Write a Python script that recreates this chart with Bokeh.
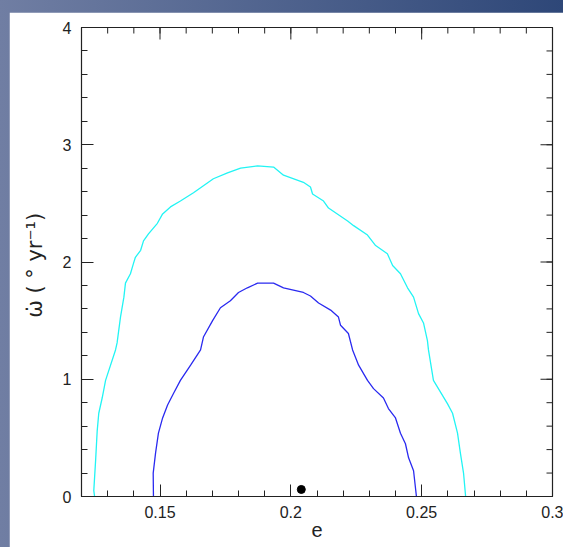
import math

from bokeh.plotting import figure
from bokeh.models import FixedTicker, Range1d
from bokeh.layouts import column
from bokeh.embed import file_html
from bokeh.resources import INLINE

# Outer contour (cyan): eccentricity vs. apsidal advance rate
outer_e = [0.1250, 0.1247, 0.1254, 0.1260, 0.1266, 0.1279, 0.1292, 0.1330, 0.1336,
           0.1349, 0.1362, 0.1368, 0.1387, 0.1399, 0.1406, 0.1426, 0.1437, 0.1456,
           0.1490, 0.1510, 0.1540, 0.1578, 0.1628, 0.1666, 0.1704, 0.1758, 0.1808,
           0.1873, 0.1934, 0.1972, 0.2048, 0.2075, 0.2083, 0.2125, 0.2144, 0.2217,
           0.2240, 0.2293, 0.2324, 0.2369, 0.2389, 0.2419, 0.2446, 0.2469, 0.2488,
           0.2507, 0.2522, 0.2526, 0.2545, 0.2599, 0.2618, 0.2637, 0.2648, 0.2660,
           0.2668]
outer_w = [0.00, 0.05, 0.31, 0.56, 0.71, 0.84, 0.99, 1.25, 1.31,
           1.53, 1.70, 1.82, 1.90, 1.99, 2.04, 2.10, 2.18, 2.24,
           2.33, 2.41, 2.47, 2.52, 2.59, 2.65, 2.71, 2.76, 2.80,
           2.82, 2.81, 2.74, 2.68, 2.64, 2.58, 2.52, 2.46, 2.35,
           2.31, 2.23, 2.14, 2.07, 1.97, 1.90, 1.78, 1.70, 1.56,
           1.48, 1.33, 1.25, 0.99, 0.79, 0.71, 0.54, 0.37, 0.20,
           0.00]

# Inner contour (blue)
inner_e = [0.1475, 0.1474, 0.1483, 0.1494, 0.1510, 0.1529, 0.1552, 0.1578, 0.1617,
           0.1655, 0.1666, 0.1701, 0.1731, 0.1769, 0.1800, 0.1834, 0.1873, 0.1934,
           0.1972, 0.2048, 0.2075, 0.2106, 0.2152, 0.2182, 0.2190, 0.2220, 0.2236,
           0.2259, 0.2293, 0.2316, 0.2354, 0.2373, 0.2400, 0.2419, 0.2438, 0.2450,
           0.2469, 0.2480]
inner_w = [0.00, 0.20, 0.37, 0.54, 0.67, 0.78, 0.88, 0.99, 1.12,
           1.25, 1.36, 1.50, 1.61, 1.67, 1.74, 1.78, 1.82, 1.82,
           1.78, 1.74, 1.71, 1.65, 1.59, 1.53, 1.46, 1.39, 1.25,
           1.12, 0.99, 0.92, 0.84, 0.75, 0.67, 0.54, 0.45, 0.33,
           0.22, 0.00]

# Best-fit solution
best_e = [0.204]
best_w = [0.06]

x_major = [0.15, 0.2, 0.25, 0.3]
x_labels = ["0.15", "0.2", "0.25", "0.3"]
x_minor = [0.12, 0.13, 0.14, 0.15, 0.16, 0.17, 0.18, 0.19, 0.20, 0.21,
           0.22, 0.23, 0.24, 0.25, 0.26, 0.27, 0.28, 0.29, 0.30]
y_major = [0, 1, 2, 3, 4]
y_labels = ["0", "1", "2", "3", "4"]
y_minor = [0.0, 0.2, 0.4, 0.6, 0.8, 1.0, 1.2, 1.4, 1.6, 1.8, 2.0, 2.2, 2.4,
           2.6, 2.8, 3.0, 3.2, 3.4, 3.6, 3.8, 4.0]

X_MIN, X_MAX = 0.12, 0.3
Y_MIN, Y_MAX = 0, 4

FONT = "Liberation Sans"
INK = "#222222"
MAJOR_LEN = 12
MINOR_LEN = 6

p = figure(frame_width=471, frame_height=469,
           x_range=Range1d(X_MIN, X_MAX), y_range=Range1d(Y_MIN, Y_MAX),
           output_backend="svg", toolbar_location=None,
           min_border_left=72, min_border_right=11,
           min_border_top=15, min_border_bottom=51,
           background_fill_color="white", border_fill_color="white")
p.margin = (12, 0, 0, 9)
p.grid.visible = False
p.outline_line_color = INK
p.outline_line_width = 1.2

p.line(outer_e, outer_w, line_color="#22f4f4", line_width=1.3)
p.line(inner_e, inner_w, line_color="#2a2af0", line_width=1.3)
p.scatter(best_e, best_w, size=8, color="black")

# Mirror ticks on the top and right frame edges: dashes centred on the edge,
# the half outside the frame is clipped away.
for ticks, length in ((x_minor, MINOR_LEN), (x_major, MAJOR_LEN)):
    p.scatter(ticks, [Y_MAX] * len(ticks), marker="dash", size=2 * length,
              angle=math.pi / 2, line_color=INK, line_width=1)
for ticks, length in ((y_minor, MINOR_LEN), (y_major, MAJOR_LEN)):
    p.scatter([X_MAX] * len(ticks), ticks, marker="dash", size=2 * length,
              line_color=INK, line_width=1)

xt = FixedTicker(ticks=x_major, minor_ticks=x_minor)
yt = FixedTicker(ticks=y_major, minor_ticks=y_minor)


def style_axis(ax, ticker):
    ax.ticker = ticker
    ax.major_tick_in = MAJOR_LEN
    ax.major_tick_out = 0
    ax.minor_tick_in = MINOR_LEN
    ax.minor_tick_out = 0
    ax.axis_line_color = INK
    ax.major_tick_line_color = INK
    ax.minor_tick_line_color = INK
    ax.major_label_text_font = FONT
    ax.major_label_text_font_size = "16px"
    ax.major_label_text_color = INK


xa = p.xaxis[0]
style_axis(xa, xt)
xa.major_label_overrides = dict(zip(x_major, x_labels))
xa.major_label_standoff = 9
xa.axis_label = "e"
xa.axis_label_text_font = FONT
xa.axis_label_text_font_style = "normal"
xa.axis_label_text_font_size = "20px"
xa.axis_label_text_color = INK
xa.axis_label_standoff = 2

ya = p.yaxis[0]
style_axis(ya, yt)
ya.major_label_overrides = dict(zip(y_major, y_labels))
ya.major_label_standoff = 10
ya.axis_label = "\u03c9\u0307  ( \u00b0 yr\u207b\u00b9)"
ya.axis_label_text_font = "DejaVu Sans"
ya.axis_label_text_font_style = "normal"
ya.axis_label_text_font_size = "21px"
ya.axis_label_text_color = INK
ya.axis_label_standoff = 13

layout = column(p, styles={"background": "linear-gradient(to right, #707ea3, #2e4778)"})

open("out.html", "w").write(file_html(layout, INLINE))
